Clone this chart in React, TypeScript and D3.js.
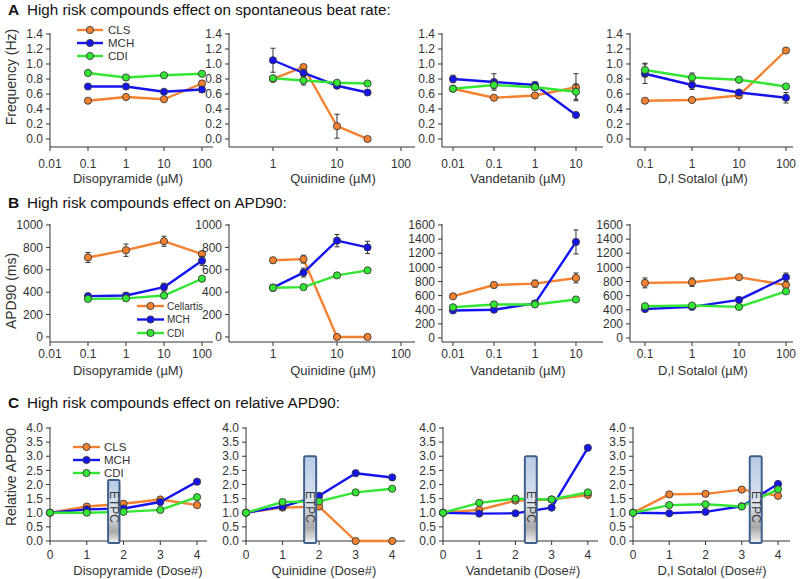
import React from 'react';
import * as d3 from 'd3';

// x values
const concDiso = [0.1, 1, 10, 100];
const concQuin = [1, 3, 10, 30];
const concVand = [0.01, 0.1, 1, 10];
const concSota = [0.1, 1, 10, 100];
const doses = [0, 1, 2, 3, 4];

const labelsDiso = ['0.01', '0.1', '1', '10', '100'];
const ticksDiso = [0.01, 0.1, 1, 10, 100];
const labelsQuin = ['1', '10', '100'];
const ticksQuin = [1, 10, 100];
const labelsVand = ['0.01', '0.1', '1', '10'];
const ticksVand = [0.01, 0.1, 1, 10];
const labelsSota = ['0.1', '1', '10', '100'];
const ticksSota = [0.1, 1, 10, 100];

// series order: CLS / Cellartis, MCH, CDI
const namesAC = ['CLS', 'MCH', 'CDI'];
const namesB = ['Cellartis', 'MCH', 'CDI'];

// A: beat rate (Hz)
const rateDiso = [[0.51, 0.56, 0.53, 0.74], [0.70, 0.70, 0.63, 0.66], [0.88, 0.82, 0.85, 0.87]];
const rateDisoErr = [[0.02, 0.03, 0.02, 0.03], [0.02, 0.02, 0.02, 0.04], [0.02, 0.02, 0.02, 0.02]];
const rateQuin = [[0.80, 0.96, 0.17, 0.00], [1.05, 0.88, 0.71, 0.62], [0.81, 0.78, 0.75, 0.74]];
const rateQuinErr = [[0.02, 0.03, 0.16, 0.01], [0.16, 0.05, 0.03, 0.02], [0.02, 0.06, 0.03, 0.02]];
const rateVand = [[0.67, 0.55, 0.58, 0.69], [0.80, 0.76, 0.72, 0.32], [0.67, 0.72, 0.69, 0.63]];
const rateVandErr = [[0.03, 0.02, 0.02, 0.18], [0.05, 0.11, 0.04, 0.02], [0.02, 0.05, 0.04, 0.1]];
const rateSota = [[0.51, 0.52, 0.58, 1.18], [0.87, 0.72, 0.62, 0.55], [0.92, 0.82, 0.79, 0.70]];
const rateSotaErr = [[0.02, 0.02, 0.03, 0.02], [0.13, 0.06, 0.03, 0.07], [0.09, 0.06, 0.03, 0.02]];

// B: APD90 (ms)
const apdDiso = [[710, 775, 855, 740], [365, 370, 445, 680], [340, 345, 370, 520]];
const apdDisoErr = [[45, 55, 45, 25], [20, 20, 35, 40], [15, 15, 20, 20]];
const apdQuin = [[685, 695, 0, 0], [440, 575, 860, 800], [440, 445, 550, 595]];
const apdQuinErr = [[25, 35, 10, 10], [30, 40, 55, 55], [20, 20, 15, 15]];
const apdVand = [[590, 750, 770, 850], [390, 400, 490, 1360], [435, 475, 475, 545]];
const apdVandErr = [[30, 40, 50, 70], [30, 30, 40, 170], [20, 20, 20, 20]];
const apdSota = [[780, 790, 860, 750], [410, 440, 540, 860], [450, 460, 440, 660]];
const apdSotaErr = [[70, 60, 30, 30], [30, 30, 30, 60], [20, 20, 20, 20]];

// C: relative APD90 by dose
const relDiso = [[1.0, 1.22, 1.32, 1.47, 1.27], [1.0, 1.12, 1.15, 1.38, 2.1], [1.0, 1.0, 1.03, 1.1, 1.55]];
const relQuin = [[1.0, 1.18, 1.22, 0.0, 0.0], [1.0, 1.22, 1.6, 2.4, 2.25], [1.0, 1.38, 1.4, 1.72, 1.85]];
const relVand = [[1.0, 1.1, 1.43, 1.47, 1.63], [1.0, 0.97, 0.98, 1.18, 3.3], [1.0, 1.35, 1.5, 1.47, 1.72]];
const relSota = [[1.0, 1.65, 1.67, 1.82, 1.6], [1.0, 0.98, 1.03, 1.23, 2.02], [1.0, 1.27, 1.3, 1.22, 1.83]];

// ETPC marker span (dose units): start, end, top
const etpcDiso = [1.58, 1.89, 2.16];
const etpcQuin = [1.59, 1.92, 3.0];
const etpcVand = [2.26, 2.59, 3.0];
const etpcSota = [3.22, 3.55, 3.0];

const doseTicks = [0, 1, 2, 3, 4];
const doseLabels = ['0', '1', '2', '3', '4'];

const COLORS = ['#F4812F', '#1414EE', '#33E633'];
const FONT = 'Liberation Sans, Arial, Helvetica, sans-serif';
const INK = '#333';

const rateTicks = d3.range(0, 1.41, 0.2);
const apdTicks1 = d3.range(0, 1001, 200);
const apdTicks2 = d3.range(0, 1601, 200);
const relTicks = d3.range(0, 4.01, 0.5);

type Cfg = {
  log: boolean;
  xDomain: [number, number];
  xRange: [number, number];
  yDomain: [number, number];
  yRange: [number, number];
  xTicks: number[];
  xLabels: string[];
  yTicks: number[];
  yFmt: (v: number) => string;
  xs: number[];
  ys: number[][];
  err?: number[][];
  xTitle: string;
  titleX: number;
  tickY: number;
  titleY: number;
  etpc?: number[];
};

const rowA = { yDomain: [-0.107, 1.4] as [number, number], yRange: [147, 34] as [number, number], yTicks: rateTicks, yFmt: d3.format('.1f'), tickY: 168, titleY: 183 };
const rowB1 = { yDomain: [-45, 1000] as [number, number], yRange: [342, 225] as [number, number], yTicks: apdTicks1, yFmt: d3.format('d'), tickY: 358, titleY: 375 };
const rowB2 = { yDomain: [-57, 1600] as [number, number], yRange: [342, 225] as [number, number], yTicks: apdTicks2, yFmt: d3.format('d'), tickY: 358, titleY: 375 };
const rowC = { yDomain: [0, 4] as [number, number], yRange: [541, 428] as [number, number], yTicks: relTicks, yFmt: d3.format('.1f'), tickY: 559, titleY: 575 };

const col1 = { log: true, xDomain: [0.01, 195] as [number, number], xRange: [50, 213] as [number, number], xTicks: ticksDiso, xLabels: labelsDiso, xs: concDiso, titleX: 128 };
const col2 = { log: true, xDomain: [0.2054, 165.5] as [number, number], xRange: [229, 415] as [number, number], xTicks: ticksQuin, xLabels: labelsQuin, xs: concQuin, titleX: 333 };
const col3 = { log: true, xDomain: [0.0054, 45.6] as [number, number], xRange: [442, 603] as [number, number], xTicks: ticksVand, xLabels: labelsVand, xs: concVand, titleX: 518 };
const col4 = { log: true, xDomain: [0.048, 141] as [number, number], xRange: [630, 793] as [number, number], xTicks: ticksSota, xLabels: labelsSota, xs: concSota, titleX: 703 };

const panels: Cfg[] = [
  { ...col1, ...rowA, ys: rateDiso, err: rateDisoErr, xTitle: 'Disopyramide (µM)' },
  { ...col2, ...rowA, ys: rateQuin, err: rateQuinErr, xTitle: 'Quinidine (µM)' },
  { ...col3, ...rowA, ys: rateVand, err: rateVandErr, xTitle: 'Vandetanib (µM)' },
  { ...col4, ...rowA, ys: rateSota, err: rateSotaErr, xTitle: 'D,l Sotalol (µM)' },
  { ...col1, ...rowB1, ys: apdDiso, err: apdDisoErr, xTitle: 'Disopyramide (µM)' },
  { ...col2, ...rowB1, ys: apdQuin, err: apdQuinErr, xTitle: 'Quinidine (µM)' },
  { ...col3, ...rowB2, ys: apdVand, err: apdVandErr, xTitle: 'Vandetanib (µM)' },
  { ...col4, ...rowB2, ys: apdSota, err: apdSotaErr, xTitle: 'D,l Sotalol (µM)' },
  { ...rowC, log: false, xDomain: [0, 4.27], xRange: [50, 207], xTicks: doseTicks, xLabels: doseLabels, xs: doses, titleX: 138, ys: relDiso, xTitle: 'Disopyramide (Dose#)', etpc: etpcDiso },
  { ...rowC, log: false, xDomain: [0, 4.35], xRange: [246, 405], xTicks: doseTicks, xLabels: doseLabels, xs: doses, titleX: 324, ys: relQuin, xTitle: 'Quinidine (Dose#)', etpc: etpcQuin },
  { ...rowC, log: false, xDomain: [0, 4.28], xRange: [443, 598], xTicks: doseTicks, xLabels: doseLabels, xs: doses, titleX: 523, ys: relVand, xTitle: 'Vandetanib (Dose#)', etpc: etpcVand },
  { ...rowC, log: false, xDomain: [0, 4.33], xRange: [633, 790], xTicks: doseTicks, xLabels: doseLabels, xs: doses, titleX: 712, ys: relSota, xTitle: 'D,l Sotalol (Dose#)', etpc: etpcSota },
];

function Panel({ p }: { p: Cfg }) {
  const x = p.log
    ? d3.scaleLog().domain(p.xDomain).range(p.xRange)
    : d3.scaleLinear().domain(p.xDomain).range(p.xRange);
  const y = d3.scaleLinear().domain(p.yDomain).range(p.yRange);
  const [xl, xr] = p.xRange;
  const [yb, yt] = p.yRange;
  const line = d3.line<number>().x((_, i) => x(p.xs[i])).y(d => y(d));

  // ETPC annotation box
  let etpcEl = null;
  if (p.etpc) {
    const [d0, d1, top] = p.etpc;
    const bx = x(d0);
    const bw = x(d1) - x(d0);
    const by = y(top);
    const bh = yb + 2 - by;
    etpcEl = (
      <g>
        <rect x={bx} y={by} width={bw} height={bh} rx={1.5} fill="url(#etpcGrad)" stroke="#40618C" strokeWidth={2} />
        <text
          transform={`translate(${bx + bw / 2},507) rotate(90)`}
          textAnchor="middle"
          dominantBaseline="central"
          fontSize={12}
          fill="#3a3a3a"
          fontFamily={FONT}
        >ETPC</text>
      </g>
    );
  }

  return (
    <g>
      <line x1={xl} x2={xl} y1={yt - 1} y2={yb} stroke={INK} strokeWidth={1} />
      <line x1={xl} x2={xr} y1={yb} y2={yb} stroke={INK} strokeWidth={1} />
      {p.yTicks.map(t => (
        <g key={'y' + t}>
          <line x1={xl - 4} x2={xl} y1={y(t)} y2={y(t)} stroke={INK} />
          <text x={xl - 7} y={y(t)} dy="0.35em" textAnchor="end" fontSize={12} fill={INK} fontFamily={FONT}>{p.yFmt(t)}</text>
        </g>
      ))}
      {p.xTicks.map((t, i) => (
        <g key={'x' + t}>
          <line x1={x(t)} x2={x(t)} y1={yb} y2={yb + 4} stroke={INK} />
          <text x={x(t)} y={p.tickY} textAnchor="middle" fontSize={12} fill={INK} fontFamily={FONT}>{p.xLabels[i]}</text>
        </g>
      ))}
      <text x={p.titleX} y={p.titleY} textAnchor="middle" fontSize={13} fill={INK} fontFamily={FONT}>{p.xTitle}</text>

      {p.ys.map((s, si) => (
        <g key={'s' + si}>
          <path d={line(s) || ''} fill="none" stroke={COLORS[si]} strokeWidth={2.4} strokeLinejoin="round" />
          {p.err && s.map((v, i) => {
            const e = p.err![si][i];
            const cx = x(p.xs[i]);
            return (
              <g key={'e' + i}>
                <line x1={cx} x2={cx} y1={y(v - e)} y2={y(v + e)} stroke={INK} strokeWidth={1} />
                <line x1={cx - 2.5} x2={cx + 2.5} y1={y(v - e)} y2={y(v - e)} stroke={INK} strokeWidth={1} />
                <line x1={cx - 2.5} x2={cx + 2.5} y1={y(v + e)} y2={y(v + e)} stroke={INK} strokeWidth={1} />
              </g>
            );
          })}
          {s.map((v, i) => (
            <circle key={'m' + i} cx={x(p.xs[i])} cy={y(v)} r={3.6} fill={COLORS[si]} stroke="#3a3a3a" strokeWidth={0.9} />
          ))}
        </g>
      ))}
      {etpcEl}
    </g>
  );
}

function Legend({ names, x0, x1, tx, ys, fs }: { names: string[]; x0: number; x1: number; tx: number; ys: number[]; fs: number }) {
  return (
    <g>
      {names.map((n, i) => (
        <g key={n}>
          <line x1={x0} x2={x1} y1={ys[i]} y2={ys[i]} stroke={COLORS[i]} strokeWidth={2.4} />
          <circle cx={(x0 + x1) / 2} cy={ys[i]} r={3.6} fill={COLORS[i]} stroke="#3a3a3a" strokeWidth={0.9} />
          <text x={tx} y={ys[i]} dy="0.35em" fontSize={fs} fill={INK} fontFamily={FONT}>{n}</text>
        </g>
      ))}
    </g>
  );
}

function SectionTitle({ letter, text, y }: { letter: string; text: string; y: number }) {
  return (
    <g fontFamily={FONT} fill="#111">
      <text x={8} y={y} fontSize={15.5} fontWeight="bold">{letter}</text>
      <text x={27} y={y} fontSize={15.2}>{text}</text>
    </g>
  );
}

function YTitle({ text, cy }: { text: string; cy: number }) {
  return (
    <text transform={`translate(11,${cy}) rotate(-90)`} textAnchor="middle" dominantBaseline="central" fontSize={14} fill={INK} fontFamily={FONT}>{text}</text>
  );
}

export default function App() {
  return (
    <svg width={800} height={579} style={{ position: 'absolute', left: 0, top: 0, background: '#fff' }}>
      <defs>
        <linearGradient id="etpcGrad" x1="0" y1="0" x2="0" y2="1">
          <stop offset="0" stopColor="#B7CBE4" />
          <stop offset="0.55" stopColor="#DCE5F0" />
          <stop offset="0.82" stopColor="#A8A8A8" />
          <stop offset="1" stopColor="#F4F4F4" />
        </linearGradient>
      </defs>
      <rect width={800} height={579} fill="#fff" />
      <SectionTitle letter="A" text="High risk compounds effect on spontaneous beat rate:" y={15} />
      <SectionTitle letter="B" text="High risk compounds effect on APD90:" y={208} />
      <SectionTitle letter="C" text="High risk compounds effect on relative APD90:" y={408} />
      <YTitle text="Frequency (Hz)" cy={77} />
      <YTitle text="APD90 (ms)" cy={291} />
      <YTitle text="Relative APD90" cy={477} />
      {panels.map((p, i) => <Panel key={i} p={p} />)}
      <Legend names={namesAC} x0={77} x1={103} tx={108} ys={[30, 43, 56]} fs={11.5} />
      <Legend names={namesB} x0={137} x1={164} tx={167} ys={[306, 319.5, 333]} fs={10} />
      <Legend names={namesAC} x0={73} x1={100} tx={104} ys={[447, 460, 473]} fs={11.5} />
    </svg>
  );
}
